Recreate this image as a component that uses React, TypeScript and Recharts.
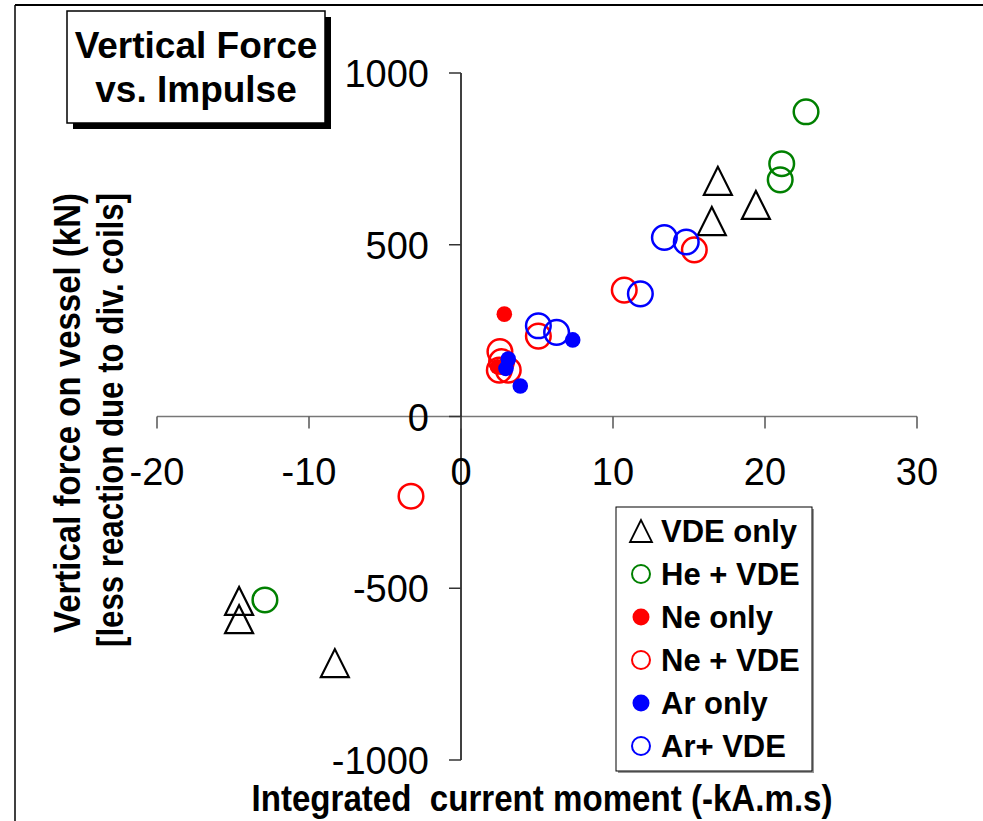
import { ScatterChart, Scatter, XAxis, YAxis, ReferenceLine, ReferenceDot } from 'recharts'

type Pt = { x: number; y: number }

// x: integrated current moment (-kA.m.s), y: vertical force on vessel (kN)
const vdeOnly: Pt[] = [
  { x: 16.9, y: 686 }, { x: 16.5, y: 569 }, { x: 19.4, y: 616 },
  { x: -14.6, y: -537 }, { x: -14.6, y: -590 }, { x: -8.3, y: -718 },
]
const heVde: Pt[] = [
  { x: 22.7, y: 887 }, { x: 21.1, y: 736 }, { x: 21.0, y: 689 }, { x: -12.9, y: -534 },
]
const neOnly: Pt[] = [{ x: 2.85, y: 298 }, { x: 2.4, y: 145 }]
const neVde: Pt[] = [
  { x: 2.56, y: 189 }, { x: 2.67, y: 160 }, { x: 2.52, y: 135 }, { x: 3.11, y: 135 },
  { x: 5.09, y: 234 }, { x: 10.74, y: 368 }, { x: 15.35, y: 485 }, { x: -3.29, y: -232 },
]
const arOnly: Pt[] = [{ x: 3.11, y: 167 }, { x: 2.96, y: 140 }, { x: 3.9, y: 89 }, { x: 7.35, y: 223 }]
const arVde: Pt[] = [
  { x: 5.09, y: 264 }, { x: 6.29, y: 245 }, { x: 11.8, y: 357 }, { x: 13.38, y: 521 }, { x: 14.82, y: 508 },
]

const xTicks = [-20, -10, 0, 10, 20, 30]
const yTicks = [-1000, -500, 0, 500, 1000]

const FONT = '"Liberation Sans", Arial, Helvetica, sans-serif'
const GREEN = '#008000'
const RED = '#ff0000'
const BLUE = '#0000ff'

type Kind = 'tri' | 'ring' | 'dot'
const series: { name: string; data: Pt[]; kind: Kind; color: string }[] = [
  { name: 'VDE only', data: vdeOnly, kind: 'tri', color: '#000' },
  { name: 'He + VDE', data: heVde, kind: 'ring', color: GREEN },
  { name: 'Ne only', data: neOnly, kind: 'dot', color: RED },
  { name: 'Ne + VDE', data: neVde, kind: 'ring', color: RED },
  { name: 'Ar only', data: arOnly, kind: 'dot', color: BLUE },
  { name: 'Ar+ VDE', data: arVde, kind: 'ring', color: BLUE },
]

// marker drawing, shared by plot (big) and legend (small)
function marker(kind: Kind, color: string, cx: number, cy: number, small = false) {
  if (kind === 'tri') {
    const h = small ? 11 : 14
    return (
      <polygon points={`${cx},${cy - h} ${cx - h},${cy + h} ${cx + h},${cy + h}`}
        fill="none" stroke={color} strokeWidth={small ? 1.8 : 2.2} />
    )
  }
  if (kind === 'ring') {
    return <circle cx={cx} cy={cy} r={small ? 9 : 12.3} fill="none" stroke={color} strokeWidth={small ? 2 : 2.5} />
  }
  return <circle cx={cx} cy={cy} r={small ? 8.5 : 7.8} fill={color} />
}

const xTick = (v: number) => (p: any) => (
  <g>
    <line x1={p.cx} y1={p.cy} x2={p.cx} y2={p.cy + 12} stroke="#555" strokeWidth={1.5} />
    <text x={p.cx} y={p.cy + 68} textAnchor="middle" fontSize={38} fontFamily={FONT} fill="#000">{v}</text>
  </g>
)

const yTick = (v: number) => (p: any) => (
  <g>
    <line x1={p.cx - 12} y1={p.cy} x2={p.cx} y2={p.cy} stroke="#333" strokeWidth={1.5} />
    <text x={p.cx - 32} y={p.cy + 14} textAnchor="end" fontSize={38} fontFamily={FONT} fill="#000">{v}</text>
  </g>
)

function Overlay() {
  return (
    <svg width={983} height={821} style={{ position: 'absolute', left: 0, top: 0, pointerEvents: 'none' }}
      fontFamily={FONT}>
      {/* frame */}
      <line x1={15} y1={5} x2={983} y2={5} stroke="#000" strokeWidth={2} />
      <line x1={15} y1={5} x2={15} y2={821} stroke="#000" strokeWidth={1.5} />

      {/* title box with drop shadow */}
      <rect x={73} y={17} width={258} height={112} fill="#000" />
      <rect x={67} y={11} width={258} height={112} fill="#fff" stroke="#000" strokeWidth={1.5} />
      <text x={196} y={58} textAnchor="middle" fontSize={37} fontWeight="bold">Vertical Force</text>
      <text x={196} y={102} textAnchor="middle" fontSize={37} fontWeight="bold">vs. Impulse</text>

      {/* axis titles */}
      <text x={542} y={811} textAnchor="middle" fontSize={36} fontWeight="bold" style={{ whiteSpace: 'pre' }}
        textLength={581} lengthAdjust="spacingAndGlyphs">Integrated  current moment (-kA.m.s)</text>
      <text x={80} y={413} transform="rotate(-90 80 413)" textAnchor="middle" fontSize={37} fontWeight="bold"
        textLength={440} lengthAdjust="spacingAndGlyphs">Vertical force on vessel (kN)</text>
      <text x={123} y={420} transform="rotate(-90 123 420)" textAnchor="middle" fontSize={37} fontWeight="bold"
        textLength={454} lengthAdjust="spacingAndGlyphs">[less reaction due to div. coils]</text>

      {/* legend */}
      <rect x={618} y={509} width={196} height={264} fill="#999" />
      <rect x={616} y={507} width={196} height={264} fill="#fff" stroke="#000" strokeWidth={1} />
      {series.map((s, i) => {
        const base = 542 + i * 43
        return (
          <g key={s.name}>
            {marker(s.kind, s.color, 641, base - 11, true)}
            <text x={661} y={base} fontSize={31} fontWeight="bold" fill="#000">{s.name}</text>
          </g>
        )
      })}
    </svg>
  )
}

export default function App() {
  return (
    <div style={{ position: 'absolute', left: 0, top: 0, width: 983, height: 821, background: '#fff' }}>
      <ScatterChart width={983} height={821} margin={{ top: 73, right: 66, bottom: 61, left: 157 }}>
        <XAxis type="number" dataKey="x" domain={[-20, 30]} ticks={xTicks} hide />
        <YAxis type="number" dataKey="y" domain={[-1000, 1000]} ticks={yTicks} hide />
        <ReferenceLine y={0} stroke="#777" strokeWidth={1.5} ifOverflow="visible" />
        <ReferenceLine x={0} stroke="#000" strokeWidth={1.5} ifOverflow="visible" />
        {xTicks.map(v => (
          <ReferenceDot key={`x${v}`} x={v} y={0} r={0} ifOverflow="visible" shape={xTick(v)} />
        ))}
        {yTicks.map(v => (
          <ReferenceDot key={`y${v}`} x={0} y={v} r={0} ifOverflow="visible" shape={yTick(v)} />
        ))}
        {series.map(s => (
          <Scatter key={s.name} name={s.name} data={s.data} isAnimationActive={false}
            shape={(p: any) => marker(s.kind, s.color, p.cx, p.cy)} />
        ))}
      </ScatterChart>
      <Overlay />
    </div>
  )
}
